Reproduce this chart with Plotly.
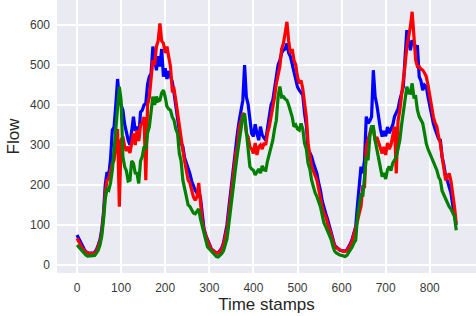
import plotly.graph_objects as go

time_stamps = list(range(0, 864, 4))

flow_blue = [
    75, 66, 56, 46, 40, 33, 31, 29, 30, 28,
    32, 38, 50, 63, 88, 130, 200, 232, 225, 265,
    337, 345, 400, 465, 412, 396, 387, 352, 330, 312,
    300, 338, 371, 335, 346, 318, 382, 387, 400, 404,
    452, 471, 479, 546, 518, 487, 522, 496, 540, 471,
    492, 465, 485, 470, 458, 430, 395, 355, 335, 305,
    296, 268, 254, 246, 228, 210, 196, 187, 180, 186,
    168, 120, 90, 75, 62, 52, 42, 37, 33, 30,
    30, 35, 42, 55, 76, 100, 140, 182, 220, 262,
    304, 332, 362, 390, 412, 500, 420, 402, 371, 329,
    321, 352, 329, 312, 346, 325, 318, 312, 342, 379,
    400, 412, 440, 471, 500, 512, 530, 537, 540, 554,
    530, 521, 500, 479, 462, 445, 437, 430, 425, 379,
    350, 290, 281, 271, 255, 240, 229, 205, 187, 160,
    140, 129, 115, 100, 85, 65, 50, 45, 40, 37,
    36, 35, 35, 38, 45, 54, 65, 80, 96, 150,
    196, 246, 229, 262, 371, 354, 360, 371, 487, 421,
    400, 362, 340, 321, 335, 322, 345, 330, 340, 350,
    371, 380, 390, 412, 430, 446, 520, 587, 560, 537,
    562, 555, 546, 546, 471, 460, 437, 450, 446, 420,
    396, 370, 354, 340, 329, 315, 312, 270, 250, 221,
    210, 196, 180, 150, 129, 100,
]

flow_red = [
    67, 60, 50, 42, 36, 32, 30, 28, 28, 29,
    30, 35, 45, 58, 80, 120, 180, 212, 215, 235,
    254, 262, 304, 340, 146, 312, 321, 296, 285, 296,
    280, 310, 329, 300, 337, 310, 350, 354, 370, 212,
    400, 420, 471, 512, 500, 546, 560, 604, 560, 554,
    530, 546, 520, 496, 437, 440, 412, 380, 340, 320,
    287, 260, 229, 212, 205, 185, 170, 162, 170, 205,
    146, 110, 87, 72, 60, 50, 40, 37, 33, 30,
    30, 33, 40, 50, 70, 90, 125, 165, 200, 240,
    279, 300, 346, 360, 380, 371, 329, 320, 296, 290,
    279, 305, 275, 295, 300, 290, 305, 300, 330, 346,
    370, 387, 420, 454, 480, 496, 540, 554, 580, 608,
    560, 529, 540, 512, 500, 470, 454, 462, 440, 396,
    370, 304, 280, 246, 235, 225, 212, 190, 162, 145,
    130, 121, 105, 90, 80, 60, 48, 43, 40, 37,
    36, 34, 34, 36, 42, 50, 60, 75, 90, 110,
    129, 146, 196, 196, 296, 312, 330, 346, 340, 312,
    320, 304, 290, 279, 295, 275, 305, 290, 300, 320,
    346, 229, 360, 387, 420, 462, 500, 546, 570, 596,
    633, 560, 512, 496, 496, 490, 487, 480, 471, 450,
    421, 390, 371, 355, 346, 320, 304, 270, 245, 212,
    220, 229, 210, 180, 146, 104,
]

flow_green = [
    50, 45, 38, 33, 28, 25, 22, 22, 22, 23,
    24, 30, 37, 50, 71, 112, 165, 190, 187, 205,
    237, 287, 346, 400, 446, 412, 271, 246, 235, 210,
    212, 260, 254, 230, 229, 204, 260, 271, 296, 290,
    330, 346, 387, 421, 400, 421, 410, 412, 430, 437,
    420, 396, 390, 387, 370, 362, 340, 329, 279, 260,
    212, 190, 171, 150, 146, 138, 130, 128, 135, 140,
    115, 95, 80, 62, 45, 40, 34, 30, 25, 21,
    20, 24, 28, 35, 48, 65, 100, 140, 175, 210,
    246, 280, 312, 330, 371, 379, 340, 300, 246, 240,
    237, 225, 232, 240, 230, 248, 238, 237, 260, 279,
    300, 312, 340, 362, 420, 446, 420, 421, 415, 412,
    400, 387, 370, 346, 350, 340, 337, 354, 340, 304,
    290, 254, 240, 212, 195, 180, 171, 160, 146, 125,
    105, 96, 85, 75, 65, 48, 35, 30, 27, 25,
    24, 22, 21, 24, 30, 37, 45, 55, 62, 120,
    146, 179, 171, 229, 271, 262, 320, 346, 346, 312,
    290, 262, 240, 221, 230, 215, 238, 246, 236, 255,
    262, 270, 290, 312, 350, 387, 420, 446, 430, 429,
    454, 420, 421, 387, 371, 360, 354, 330, 304, 290,
    279, 265, 254, 245, 237, 220, 212, 185, 175, 162,
    155, 146, 140, 130, 121, 87,
]

x_ticks = [0, 100, 200, 300, 400, 500, 600, 700, 800]
y_ticks = [0, 100, 200, 300, 400, 500, 600]

fig = go.Figure()
for vals, col in [(flow_blue, "blue"), (flow_red, "red"), (flow_green, "green")]:
    fig.add_trace(go.Scatter(x=time_stamps, y=vals, mode="lines",
                             line=dict(color=col, width=3.2), showlegend=False))

font_family = "Liberation Sans, Arial, sans-serif"
fig.update_layout(
    width=476, height=316,
    margin=dict(l=57, r=0, t=0, b=43),
    paper_bgcolor="white",
    plot_bgcolor="#EAEAF2",
    font=dict(family=font_family, color="#262626", size=12),
    xaxis=dict(
        range=[-45.4, 904.8],
        tickvals=x_ticks,
        showgrid=True, gridcolor="white", gridwidth=1.5,
        zeroline=False, showline=False, ticks="",
        ticklabelstandoff=6,
        tickfont=dict(size=12, color="#3a3a3a"),
        title=dict(text="Time stamps", font=dict(size=17, color="#262626"), standoff=4),
    ),
    yaxis=dict(
        range=[-20, 662.5],
        tickvals=y_ticks,
        showgrid=True, gridcolor="white", gridwidth=1.5,
        zeroline=False, showline=False, ticks="",
        ticklabelstandoff=6,
        tickfont=dict(size=12, color="#3a3a3a"),
        title=dict(text="Flow", font=dict(size=17, color="#262626"), standoff=6),
    ),
)

fig.write_html("out.html",
               config={"displayModeBar": False},
               post_script="document.body.style.margin='0';document.body.style.padding='0';")
